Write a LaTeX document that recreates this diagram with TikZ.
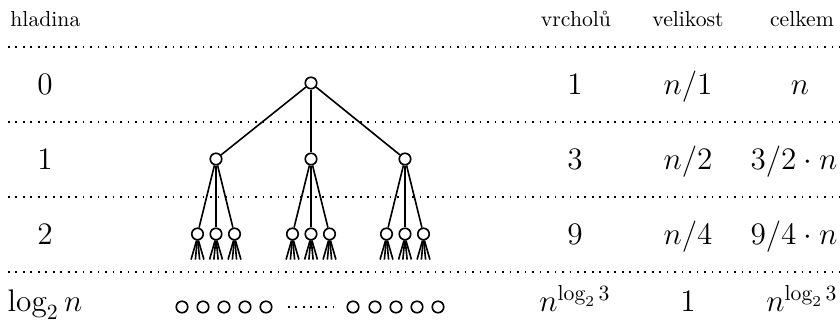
\documentclass[tikz,border=0pt]{standalone}
\usepackage{fontspec}
\begin{document}
\begin{tikzpicture}[x=0.4608pt,y=-0.4608pt,
  vtx/.style={circle,draw,line width=0.75pt,inner sep=0pt,minimum size=5.3pt},
  sepline/.style={line width=0.75pt,dash pattern=on 0.75pt off 2.7pt},
  edge/.style={line width=0.75pt},
  hdr/.style={anchor=base,inner sep=0pt,font=\normalsize},
  val/.style={anchor=base,inner sep=0pt,font=\Large}]
\useasboundingbox (0,0) rectangle (840,323);

% header
\node[hdr,anchor=base west] (hh) at (10,27) {hladina};
\node[hdr] (hv) at (576,27) {vrcholů};
\node[hdr] (hs) at (688,27) {velikost};
\node[hdr] (hc) at (802,27) {celkem};

% separators
\foreach \y/\n in {47/s0,122/s1,197/s2,272/s3}{
  \coordinate (\n l) at (8,\y);
  \coordinate (\n r) at (840,\y);
  \draw[sepline] (\n l) -- (\n r);
}

% row labels and values
\node[val] (l0) at (45,95) {$0$};
\node[val] (l1) at (45,170) {$1$};
\node[val] (l2) at (45,245) {$2$};
\node[val] (l3) at (45,312) {$\log_2 n$};

\node[val] (v0) at (575,95) {$1$};
\node[val] (v1) at (575,170) {$3$};
\node[val] (v2) at (575,245) {$9$};
\node[val] (v3) at (575,312) {$n^{\log_2 3}$};

\node[val] (z0) at (688,95) {$n/1$};
\node[val] (z1) at (688,170) {$n/2$};
\node[val] (z2) at (688,245) {$n/4$};
\node[val] (z3) at (688,312) {$1$};

\node[val] (c0) at (800,95) {$n$};
\node[val] (c1) at (794,170) {$3/2\cdot n$};
\node[val] (c2) at (794,245) {$9/4\cdot n$};
\node[val] (c3) at (802,312) {$n^{\log_2 3}$};

% tree
\node[vtx] (r) at (311,83) {};
\node[vtx] (a1) at (216,159) {};
\node[vtx] (a2) at (311,159) {};
\node[vtx] (a3) at (405,159) {};
\draw[edge] (r) -- (a1);
\draw[edge] (r) -- (a2);
\draw[edge] (r) -- (a3);
\foreach \i/\x in {1/216,2/311,3/405}{
  \node[vtx] (b\i1) at (\x-18.5,234) {};
  \node[vtx] (b\i2) at (\x,234) {};
  \node[vtx] (b\i3) at (\x+18.5,234) {};
  \foreach \j in {1,2,3}{
    \draw[edge] (a\i) -- (b\i\j);
    \foreach \d in {-5.5,-1.8,1.8,5.5}{
      \draw[edge] ([xshift=\d*0.08pt]b\i\j.south) -- ++(\d,19);
    }
  }
}

% bottom row
\foreach \k/\x in {1/182,2/203,3/224,4/245,5/266,6/353,7/375,8/396,9/417,10/438}{
  \node[vtx] (q\k) at (\x,307) {};
}
\coordinate (dl) at (288,307);
\coordinate (dr) at (334,307);
\draw[sepline] (dl) -- (dr);
\end{tikzpicture}
\end{document}
